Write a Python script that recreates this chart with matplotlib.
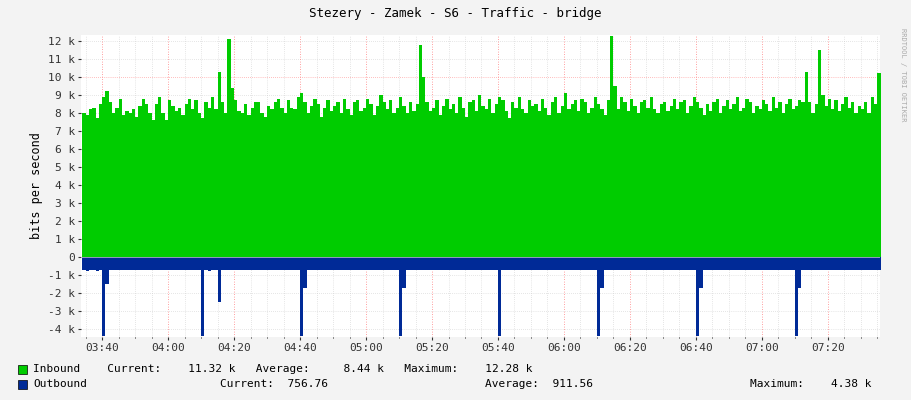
import matplotlib
matplotlib.use("Agg")
import matplotlib.pyplot as plt
import numpy as np

start_min = 3*60+34  # first sample 03:34, one per minute
inbound = [
8.0,7.9,8.2,8.3,7.7,8.5,8.9,9.2,8.6,8.0,8.3,8.8,7.9,8.1,8.0,8.2,7.8,8.4,8.8,8.5,
8.0,7.6,8.5,8.9,8.0,7.6,8.7,8.4,8.1,8.3,7.9,8.5,8.8,8.2,8.7,8.0,7.7,8.6,8.3,8.9,
8.2,10.3,8.6,8.0,12.1,9.4,8.7,8.1,8.0,8.5,7.9,8.3,8.6,8.6,8.0,7.8,8.4,8.2,8.6,8.8,
8.3,8.0,8.7,8.3,8.2,8.9,9.1,8.6,8.0,8.4,8.8,8.5,7.8,8.3,8.7,8.1,8.4,8.6,8.0,8.8,
8.2,7.9,8.6,8.7,8.1,8.3,8.8,8.5,7.9,8.4,9.0,8.6,8.2,8.7,8.0,8.3,8.9,8.4,8.0,8.6,
8.1,8.5,11.8,10.0,8.6,8.1,8.3,8.7,7.9,8.4,8.8,8.2,8.5,8.0,8.9,8.3,7.8,8.6,8.7,8.1,
9.0,8.4,8.2,8.8,8.0,8.5,8.9,8.7,8.1,7.7,8.6,8.3,8.9,8.2,8.0,8.7,8.4,8.5,8.1,8.8,
8.3,7.9,8.6,8.9,8.0,8.4,9.1,8.2,8.5,8.7,8.1,8.8,8.6,8.0,8.3,8.9,8.5,8.2,7.9,8.7,
12.3,9.5,8.2,8.9,8.6,8.1,8.8,8.4,8.0,8.6,8.7,8.3,8.9,8.2,8.0,8.5,8.6,8.1,8.4,8.8,
8.2,8.6,8.7,8.0,8.4,8.9,8.6,8.3,7.9,8.5,8.1,8.6,8.8,8.0,8.4,8.7,8.2,8.5,8.9,8.1,
8.3,8.8,8.6,8.0,8.4,8.2,8.7,8.5,8.1,8.9,8.3,8.6,8.0,8.5,8.8,8.2,8.4,8.7,8.6,10.3,
8.6,8.0,8.5,11.5,9.0,8.4,8.8,8.2,8.7,8.1,8.5,8.9,8.3,8.6,8.0,8.4,8.2,8.6,8.0,8.9,
8.5,10.2]
outbound = [
-0.7,-0.8,-0.7,-0.7,-0.8,-0.7,-4.4,-1.5,-0.7,-0.7,-0.7,-0.7,-0.7,-0.7,-0.7,-0.7,-0.7,-0.7,-0.7,-0.7,
-0.7,-0.7,-0.7,-0.7,-0.7,-0.7,-0.7,-0.7,-0.7,-0.7,-0.7,-0.7,-0.7,-0.7,-0.7,-0.7,-4.4,-0.7,-0.8,-0.7,
-0.7,-2.5,-0.7,-0.7,-0.7,-0.7,-0.7,-0.7,-0.7,-0.7,-0.7,-0.7,-0.7,-0.7,-0.7,-0.7,-0.7,-0.7,-0.7,-0.7,
-0.7,-0.7,-0.7,-0.7,-0.7,-0.7,-4.4,-1.7,-0.7,-0.7,-0.7,-0.7,-0.7,-0.7,-0.7,-0.7,-0.7,-0.7,-0.7,-0.7,
-0.7,-0.7,-0.7,-0.7,-0.7,-0.7,-0.7,-0.7,-0.7,-0.7,-0.7,-0.7,-0.7,-0.7,-0.7,-0.7,-4.4,-1.7,-0.7,-0.7,
-0.7,-0.7,-0.7,-0.7,-0.7,-0.7,-0.7,-0.7,-0.7,-0.7,-0.7,-0.7,-0.7,-0.7,-0.7,-0.7,-0.7,-0.7,-0.7,-0.7,
-0.7,-0.7,-0.7,-0.7,-0.7,-0.7,-4.4,-0.7,-0.7,-0.7,-0.7,-0.7,-0.7,-0.7,-0.7,-0.7,-0.7,-0.7,-0.7,-0.7,
-0.7,-0.7,-0.7,-0.7,-0.7,-0.7,-0.7,-0.7,-0.7,-0.7,-0.7,-0.7,-0.7,-0.7,-0.7,-0.7,-4.4,-1.7,-0.7,-0.7,
-0.7,-0.7,-0.7,-0.7,-0.7,-0.7,-0.7,-0.7,-0.7,-0.7,-0.7,-0.7,-0.7,-0.7,-0.7,-0.7,-0.7,-0.7,-0.7,-0.7,
-0.7,-0.7,-0.7,-0.7,-0.7,-0.7,-4.4,-1.7,-0.7,-0.7,-0.7,-0.7,-0.7,-0.7,-0.7,-0.7,-0.7,-0.7,-0.7,-0.7,
-0.7,-0.7,-0.7,-0.7,-0.7,-0.7,-0.7,-0.7,-0.7,-0.7,-0.7,-0.7,-0.7,-0.7,-0.7,-0.7,-4.4,-1.7,-0.7,-0.7,
-0.7,-0.7,-0.7,-0.7,-0.7,-0.7,-0.7,-0.7,-0.7,-0.7,-0.7,-0.7,-0.7,-0.7,-0.7,-0.7,-0.7,-0.7,-0.7,-0.7,
-0.7,-0.7]
tick_labels = ["03:40","04:00","04:20","04:40","05:00","05:20","05:40","06:00","06:20","06:40","07:00","07:20"]
y_ticks = list(range(-4, 13))

mono = "DejaVu Sans Mono"
fig = plt.figure(figsize=(9.11, 4.0), dpi=100, facecolor="#F3F3F3")
ax = fig.add_axes([81/911, 1-337/400, 799/911, 302/400], facecolor="white")

t = start_min + np.arange(len(inbound) + 1)
inb = np.array(inbound + [inbound[-1]])
outb = np.array(outbound + [outbound[-1]])
ax.fill_between(t, 0, inb, step="post", color="#00CC00", lw=0)
ax.fill_between(t, 0, outb, step="post", color="#002A97", lw=0)

ax.set_xlim(start_min - 0.4, start_min + 241.8)
ax.set_ylim(-4.44, 12.33)
major = [3*60+40 + 20*i for i in range(len(tick_labels))]
ax.set_xticks(major)
ax.set_xticklabels(tick_labels, fontfamily=mono, fontsize=8)
ax.set_xticks([m for m in range(215, 456, 5)], minor=True)
ax.set_yticks(y_ticks)
ax.set_yticklabels(["0" if v == 0 else f"{v} k" for v in y_ticks], fontfamily=mono, fontsize=8)
for m in major:
    ax.axvline(m, color="#FF8080", lw=0.6, ls=(0, (1, 2)), zorder=0.5)
for m in range(215, 456, 5):
    if m not in major:
        ax.axvline(m, color="#CCCCCC", lw=0.5, ls=(0, (1, 2)), zorder=0.4)
for v in y_ticks:
    ax.axhline(v, color="#FF8080" if v % 5 == 0 else "#CCCCCC", lw=0.5, ls=(0, (1, 2)), zorder=0.4)
ax.axhline(0, color="#CCCCCC", lw=0.5)
for s in ax.spines.values():
    s.set_visible(False)
ax.tick_params(length=2, colors="#333333", pad=2)
ax.tick_params(which="minor", length=1)
ax.set_ylabel("bits per second", fontfamily=mono, fontsize=8.5)
fig.text(0.5, 1-14/400, "Stezery - Zamek - S6 - Traffic - bridge", ha="center", va="center",
         fontfamily=mono, fontsize=9)
fig.text(903/911, 1-75/400, "RRDTOOL / TOBI OETIKER", rotation=270, ha="center", va="center",
         fontfamily=mono, fontsize=5, color="#AAAAAA")

fig.patches.append(plt.Rectangle((18/911, 1-374/400), 9/911, 9/400, transform=fig.transFigure,
                                 facecolor="#00CC00", edgecolor="black", lw=0.5))
fig.patches.append(plt.Rectangle((18/911, 1-389/400), 9/911, 9/400, transform=fig.transFigure,
                                 facecolor="#002A97", edgecolor="black", lw=0.5))
fig.text(33/911, 1-369/400, "Inbound    Current:    11.32 k   Average:     8.44 k   Maximum:    12.28 k",
         va="center", fontfamily=mono, fontsize=8)
for x, s in [(33, "Outbound"), (220, "Current:  756.76"), (485, "Average:  911.56"), (750, "Maximum:    4.38 k")]:
    fig.text(x/911, 1-384/400, s, va="center", fontfamily=mono, fontsize=8)

fig.savefig("out.png", dpi=100, facecolor=fig.get_facecolor())
